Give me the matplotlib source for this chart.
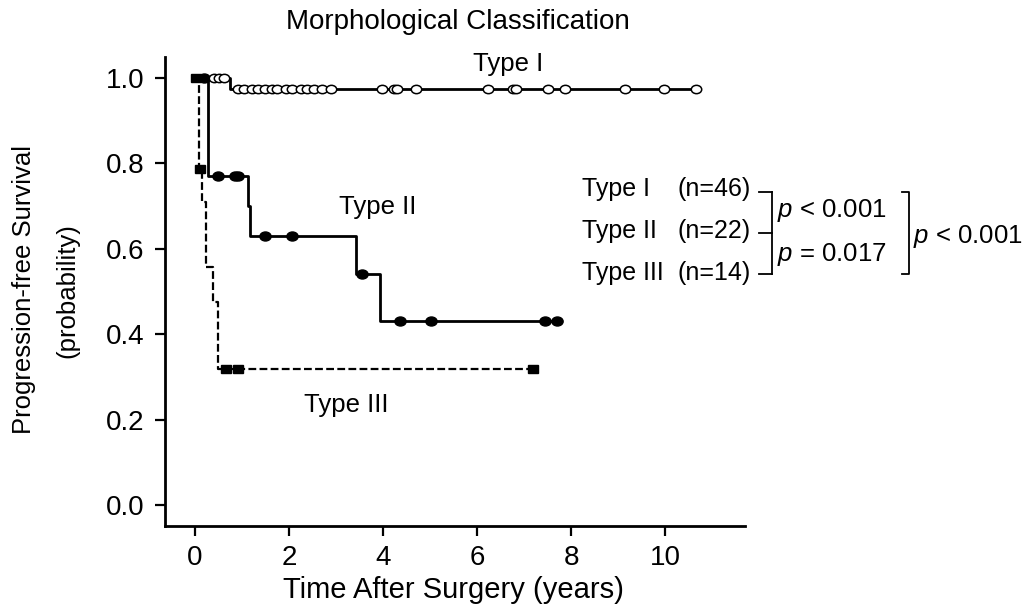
import matplotlib.pyplot as plt
import numpy as np
from matplotlib.markers import MarkerStyle
from matplotlib.transforms import Affine2D

plt.rcParams['font.family'] = ['Liberation Sans', 'DejaVu Sans']
plt.rcParams['mathtext.fontset'] = 'custom'
plt.rcParams['mathtext.rm'] = 'Liberation Sans'
plt.rcParams['mathtext.it'] = 'Liberation Sans:italic'

# Kaplan-Meier steps: time of each step (years) and survival after it
type1_time = [0.0, 0.74, 10.65]
type1_surv = [1.0, 0.975, 0.975]
type1_cens = [0.40, 0.50, 0.62, 0.91, 1.05, 1.21, 1.33, 1.48, 1.63, 1.75,
              1.94, 2.07, 2.26, 2.39, 2.54, 2.71, 2.90, 3.97, 4.23, 4.29,
              4.69, 6.24, 6.77, 6.83, 7.50, 7.86, 9.15, 9.98, 10.65]

type2_time = [0.0, 0.28, 1.12, 1.16, 3.42, 3.93, 7.70]
type2_surv = [1.0, 0.77, 0.70, 0.63, 0.54, 0.43, 0.43]
type2_cens = [0.20, 0.49, 0.85, 0.91, 1.48, 2.07, 3.55, 4.35, 5.01, 7.44, 7.70]

type3_time = [0.0, 0.08, 0.15, 0.23, 0.38, 0.49, 7.19]
type3_surv = [1.0, 0.786, 0.71, 0.557, 0.475, 0.318, 0.318]
type3_cens = [0.03, 0.11, 0.66, 0.91, 7.19]

group_names = ['Type I', 'Type II', 'Type III']
group_n = [46, 22, 14]
p_pairs = ['< 0.001', '= 0.017']
p_overall = '< 0.001'

x_ticks = [0, 2, 4, 6, 8, 10]
y_ticks = [0.0, 0.2, 0.4, 0.6, 0.8, 1.0]


def step_level(times, surv, t):
    idx = np.searchsorted(times, t, side='right') - 1
    return np.asarray(surv)[idx]


def wide(marker):
    # censor marks are drawn a little wider than tall
    return MarkerStyle(marker, transform=Affine2D().scale(1.25, 1.0))


W, H = 1033, 608
fig = plt.figure(figsize=(W / 100, H / 100), dpi=100)
ax = fig.add_axes([165 / W, 1 - 526 / H, (745 - 165) / W, (526 - 57) / H])

ax.step(type3_time, type3_surv, where='post', color='black', lw=1.6,
        linestyle=(0, (3.5, 1.5)))
ax.plot(type3_cens, step_level(type3_time, type3_surv, type3_cens),
        linestyle='none', marker=wide('s'), color='black', ms=5.5)

ax.step(type2_time, type2_surv, where='post', color='black', lw=2.0)
ax.plot(type2_cens, step_level(type2_time, type2_surv, type2_cens),
        linestyle='none', marker=wide('o'), color='black', ms=6.5)

ax.step(type1_time, type1_surv, where='post', color='black', lw=2.0)
ax.plot(type1_cens, step_level(type1_time, type1_surv, type1_cens),
        linestyle='none', marker=wide('o'), mfc='white', mec='black',
        mew=1.1, ms=6.0)

ax.set_xlim(-0.64, 11.7)
ax.set_ylim(-0.049, 1.049)
ax.set_xticks(x_ticks)
ax.set_yticks(y_ticks)
ax.set_yticklabels([f'{v:.1f}' for v in y_ticks])
for s in ['top', 'right']:
    ax.spines[s].set_visible(False)
for s in ['left', 'bottom']:
    ax.spines[s].set_linewidth(2.0)
ax.tick_params(axis='both', direction='out', length=7.5, width=1.6,
               labelsize=20, color='black')
ax.tick_params(axis='x', pad=6)
ax.tick_params(axis='y', pad=7)

# pixel-space overlay for the free-standing labels and brackets
ov = fig.add_axes([0, 0, 1, 1])
ov.set_xlim(0, W)
ov.set_ylim(H, 0)
ov.axis('off')

ov.text(458, 22, 'Morphological Classification', fontsize=20,
        ha='center', va='center')
ov.text(453, 590, 'Time After Surgery (years)', fontsize=21,
        ha='center', va='center')
ov.text(24, 290, 'Progression-free Survival', fontsize=18.5, rotation=90,
        ha='center', va='center')
ov.text(67, 291, '(probability)', fontsize=18.5, rotation=90,
        ha='center', va='center')

ov.text(508, 64, group_names[0], fontsize=18.5, ha='center', va='center')
ov.text(378, 207, group_names[1], fontsize=18.5, ha='center', va='center')
ov.text(346, 405, group_names[2], fontsize=18.5, ha='center', va='center')

row_y = [189, 231, 273]
for name, n, y in zip(group_names, group_n, row_y):
    ov.text(582, y, name, fontsize=18, ha='left', va='center')
    ov.text(751, y, f'(n={n})', fontsize=18, ha='right', va='center')

# inner bracket: ticks from each group into one vertical bar
tick_y = [192, 233, 274]
for y in tick_y:
    ov.plot([759, 772], [y, y], color='black', lw=1.3)
ov.plot([772, 772], [tick_y[0], tick_y[-1]], color='black', lw=1.3)
ov.text(777, 211, f'$\\it{{p}}$ {p_pairs[0]}', fontsize=18.5,
        ha='left', va='center')
ov.text(777, 255, f'$\\it{{p}}$ {p_pairs[1]}', fontsize=18.5,
        ha='left', va='center')

# outer bracket spanning both pairwise tests
ov.plot([902, 909, 909, 902], [tick_y[0], tick_y[0], tick_y[-1], tick_y[-1]],
        color='black', lw=1.3)
ov.text(913, 236, f'$\\it{{p}}$ {p_overall}', fontsize=18.5,
        ha='left', va='center')

fig.savefig('out.png', dpi=100)
